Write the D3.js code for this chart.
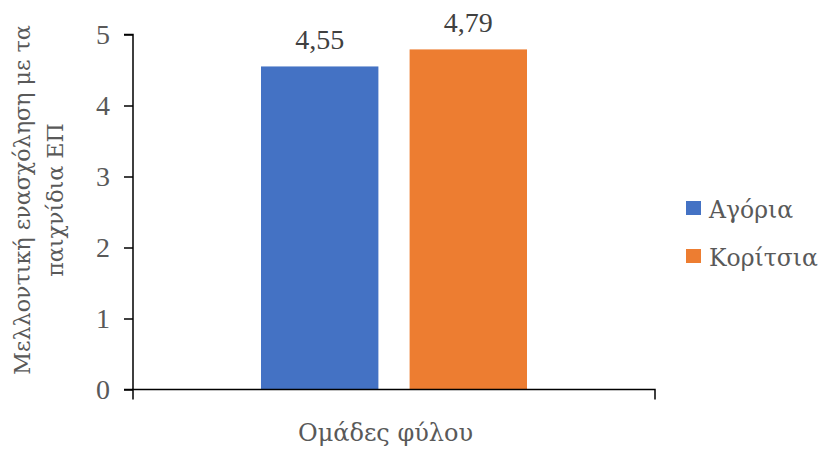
<!DOCTYPE html>
<html><head><meta charset="utf-8">
<script src="https://cdn.jsdelivr.net/npm/d3@7"></script>
<style>body{margin:0;background:#fff}svg{display:block}text{font-family:"Liberation Serif","DejaVu Serif",serif;fill:#595959}</style>
</head><body><svg id="c" width="821" height="453"></svg>
<script>
const categories = ["Ομάδες φύλου"];
const seriesNames = ["Αγόρια", "Κορίτσια"];
const seriesValues = [4.55, 4.79];
const seriesColors = ["#4472C4", "#ED7D31"];
const yTicks = [0, 1, 2, 3, 4, 5];
const yTitle = ["Μελλοντική ενασχόληση με τα", "παιχνίδια ΕΠ"];

const svg = d3.select("#c");
const pLeft = 133, pRight = 655, pTop = 34.5, pBottom = 389.5;
const y = d3.scaleLinear().domain([0, 5]).range([pBottom, pTop]);
const x0 = d3.scaleBand().domain(categories).range([pLeft, pRight]).paddingInner(0).paddingOuter(0);
const x1 = d3.scaleBand().domain(seriesNames).range([x0(categories[0]) + 128, x0(categories[0]) + x0.bandwidth() - 128]).paddingInner(0.21).paddingOuter(0);
const fmt = v => d3.format(".2f")(v).replace(".", ",");
const greekFont = '"DejaVu Serif",serif';

// bars
svg.selectAll("rect.bar").data(seriesValues).enter().append("rect")
  .attr("x", (d, i) => x1(seriesNames[i]))
  .attr("width", x1.bandwidth())
  .attr("y", d => y(d))
  .attr("height", d => y(0) - y(d))
  .attr("fill", (d, i) => seriesColors[i]);

// value labels
svg.selectAll("text.val").data(seriesValues).enter().append("text")
  .attr("x", (d, i) => x1(seriesNames[i]) + x1.bandwidth() / 2)
  .attr("y", d => y(d) - 17)
  .attr("text-anchor", "middle")
  .style("font-size", "28px")
  .style("fill", "#404040")
  .text(d => fmt(d));

// y axis
const yAxis = d3.axisLeft(y).tickValues(yTicks).tickSize(9).tickPadding(14).tickFormat(d3.format("d"));
const gy = svg.append("g").attr("transform", `translate(${pLeft},0)`).call(yAxis);
gy.select(".domain").attr("stroke", "#000").attr("stroke-width", 1.5).attr("d", `M-9,${pTop}H0V${pBottom}`);
gy.selectAll(".tick line").attr("stroke", "#000").attr("stroke-width", 1.5);
gy.selectAll(".tick text").style("font-size", "28px").style("font-family", '"Liberation Serif",serif').style("fill", "#595959");

// x axis
const xAxis = d3.axisBottom(x0).tickValues([]).tickSize(0);
const gx = svg.append("g").attr("transform", `translate(0,${pBottom})`).call(xAxis);
gx.select(".domain").attr("stroke", "#000").attr("stroke-width", 1.5).attr("d", `M${pLeft},10V0H${pRight}V10`);
svg.append("line").attr("x1", pLeft - 9).attr("x2", pLeft).attr("y1", pBottom).attr("y2", pBottom).attr("stroke", "#000").attr("stroke-width", 1.5);

// x title
svg.append("text").attr("x", x0(categories[0]) + x0.bandwidth() / 2 - 8.5).attr("y", 441)
  .attr("text-anchor", "middle").style("font-family", greekFont).style("font-size", "24px").text(categories[0]);

// y title
const yt = svg.append("text").attr("transform", "translate(0,200) rotate(-90)").attr("text-anchor", "middle")
  .style("font-family", greekFont).style("font-size", "22.2px");
yt.append("tspan").attr("x", 0).attr("y", 30).text(yTitle[0]);
yt.append("tspan").attr("x", 0).attr("y", 63).text(yTitle[1]);

// legend
const lg = svg.append("g").selectAll("g").data(seriesNames).enter().append("g")
  .attr("transform", (d, i) => `translate(686,${201 + i * 48})`);
lg.append("rect").attr("width", 15).attr("height", 14).attr("fill", (d, i) => seriesColors[i]);
lg.append("text").attr("x", 23).attr("y", 17).style("font-family", greekFont).style("font-size", "23.5px").text(d => d);
</script></body></html>
